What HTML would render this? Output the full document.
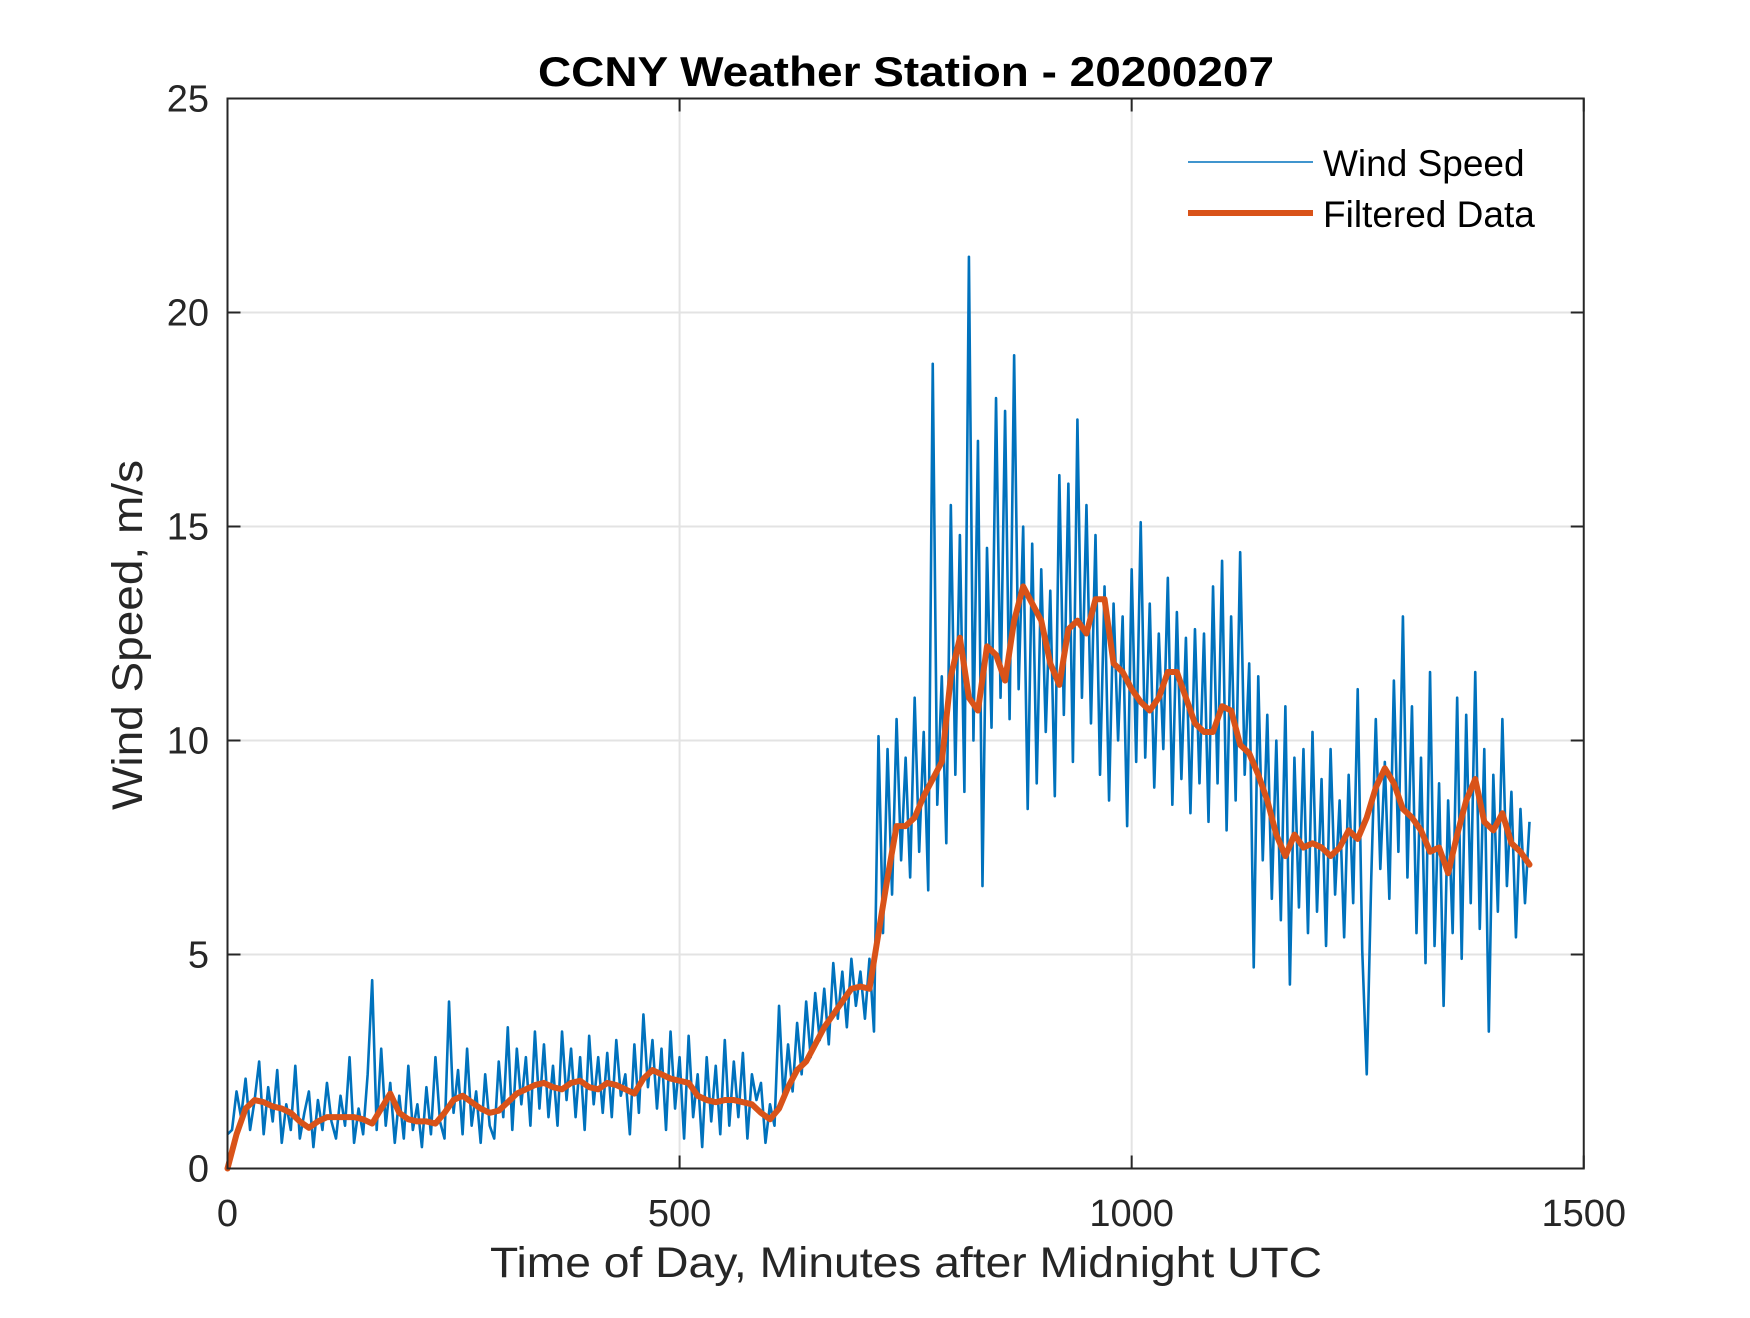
<!DOCTYPE html>
<html><head><meta charset="utf-8"><style>
html,body{margin:0;padding:0;background:#fff;}
svg text{font-family:"Liberation Sans",Arial,sans-serif;}
</style></head><body>
<svg id="chart" width="1750" height="1313" viewBox="0 0 1750 1313" xmlns="http://www.w3.org/2000/svg">
<rect width="1750" height="1313" fill="#fff"/>
<g id="grid"></g>
<g id="series"></g>
<rect x="227.5" y="98.5" width="1356.25" height="1070" fill="none" stroke="#262626" stroke-width="2"/>
<g id="ticks"></g>
<text x="906" y="86" text-anchor="middle" font-size="42" font-weight="bold" fill="#000" textLength="736" lengthAdjust="spacingAndGlyphs">CCNY Weather Station - 20200207</text>
<text x="906" y="1277" text-anchor="middle" font-size="43" fill="#262626" textLength="832" lengthAdjust="spacingAndGlyphs">Time of Day, Minutes after Midnight UTC</text>
<text transform="translate(142,635) rotate(-90)" text-anchor="middle" font-size="43" fill="#262626" textLength="350" lengthAdjust="spacingAndGlyphs">Wind Speed, m/s</text>
<g>
<line x1="1188" y1="162" x2="1313" y2="162" stroke="#0072BD" stroke-width="1.5"/>
<text x="1323" y="176" font-size="37" fill="#000">Wind Speed</text>
<line x1="1188" y1="213" x2="1313" y2="213" stroke="#D95319" stroke-width="6"/>
<text x="1323" y="227" font-size="37" fill="#000">Filtered Data</text>
</g>
</svg>
<script>
const xTicks = [0, 500, 1000, 1500];
const yTicks = [0, 5, 10, 15, 20, 25];
const rawStep = 5;
const windSpeed = [
0.8,0.9,1.8,1.2,2.1,0.9,1.6,2.5,0.8,1.9,1.1,2.3,
0.6,1.5,0.9,2.4,0.7,1.3,1.8,0.5,1.6,0.9,2.0,1.1,
0.7,1.7,1.0,2.6,0.6,1.4,0.8,2.2,4.4,0.9,2.8,1.0,
2.0,0.6,1.7,0.7,2.4,0.9,1.5,0.5,1.9,0.8,2.6,1.1,
0.7,3.9,1.3,2.3,0.8,2.8,1.0,1.8,0.6,2.2,1.0,0.7,
2.5,1.2,3.3,0.9,2.8,1.5,2.6,1.0,3.2,1.4,2.9,1.2,
2.4,1.0,3.2,1.6,2.8,1.2,2.6,0.9,3.1,1.5,2.6,1.3,
2.7,1.2,3.0,1.7,2.2,0.8,2.9,1.3,3.6,1.9,3.0,1.4,
2.8,0.9,3.2,1.4,2.6,0.7,3.1,1.2,2.2,0.5,2.6,1.1,
2.4,0.8,3.0,1.0,2.5,1.2,2.7,0.7,2.2,1.6,2.0,0.6,
1.5,1.0,3.8,1.6,2.9,1.8,3.4,2.2,3.9,2.6,4.1,3.0,
4.2,2.9,4.8,3.5,4.6,3.3,4.9,3.8,4.6,3.5,4.9,3.2,
10.1,5.5,9.8,6.4,10.5,7.2,9.6,6.8,11.0,7.4,10.2,6.5,
18.8,8.5,11.5,7.6,15.5,9.2,14.8,8.8,21.3,10.0,17.0,6.6,
14.5,10.3,18.0,11.0,17.7,10.5,19.0,11.2,15.0,8.4,14.6,9.0,
14.0,10.2,13.5,8.7,16.2,10.6,16.0,9.5,17.5,11.0,15.5,10.4,
14.8,9.2,13.6,8.6,13.2,10.0,12.9,8.0,14.0,9.5,15.1,9.6,
13.2,8.9,12.5,9.8,13.8,8.5,13.0,9.1,12.4,8.3,12.6,9.0,
12.5,8.1,13.6,9.0,14.2,7.9,12.9,8.6,14.4,9.2,11.8,4.7,
11.5,7.2,10.6,6.3,10.0,5.8,10.8,4.3,9.6,6.1,9.8,5.5,
10.2,6.0,9.1,5.2,9.8,6.4,8.6,5.4,9.2,6.2,11.2,5.1,
2.2,6.8,10.5,7.0,9.5,6.3,11.4,7.4,12.9,6.8,10.8,5.5,
9.6,4.8,11.6,5.2,9.0,3.8,8.6,5.5,11.0,4.9,10.6,6.2,
11.6,5.6,9.8,3.2,9.2,6.0,10.5,6.6,8.8,5.4,8.4,6.2,
8.1];
const filteredStep = 10;
const filtered = [
0,0.8,1.4,1.6,1.55,1.45,1.4,1.3,1.1,0.95,1.1,1.2,1.2,1.2,1.2,1.15,1.05,1.4,1.75,1.3,
1.15,1.1,1.1,1.05,1.3,1.6,1.7,1.55,1.4,1.3,1.35,1.55,1.75,1.85,1.95,2.0,1.9,1.85,2.0,2.05,
1.9,1.85,2.0,1.95,1.85,1.75,2.1,2.3,2.2,2.1,2.05,2.0,1.7,1.6,1.55,1.6,1.6,1.55,1.5,1.3,
1.15,1.4,1.9,2.3,2.5,2.9,3.3,3.6,3.9,4.2,4.25,4.2,5.5,6.8,8.0,8.0,8.2,8.7,9.1,9.5,
11.5,12.4,11.0,10.7,12.2,12.0,11.4,12.8,13.6,13.2,12.8,11.8,11.3,12.6,12.8,12.5,13.3,13.3,11.8,11.6,
11.2,10.9,10.7,11.0,11.6,11.6,11.0,10.4,10.2,10.2,10.8,10.7,9.9,9.7,9.2,8.6,7.8,7.3,7.8,7.5,
7.6,7.5,7.3,7.5,7.9,7.7,8.2,8.9,9.35,9.0,8.4,8.2,7.9,7.4,7.5,6.9,7.8,8.6,9.1,8.1,
7.9,8.3,7.6,7.4,7.1];

const X0=227.5, X1=1583.75, Y0=1168.5, Y1=98.5;
function sx(v){return X0+(v-0)/(1500-0)*(X1-X0);}
function sy(v){return Y0-(v-0)/(25-0)*(Y0-Y1);}
const NS='http://www.w3.org/2000/svg';
const grid=document.getElementById('grid'), ticks=document.getElementById('ticks'), series=document.getElementById('series');
function mk(tag,attrs,parent){const e=document.createElementNS(NS,tag);for(const k in attrs)e.setAttribute(k,attrs[k]);parent.appendChild(e);return e;}

xTicks.forEach(t=>{
  const x=sx(t);
  if(t>0&&t<1500){const g=mk('line',{x1:x,y1:Y0,x2:x,y2:Y1,stroke:'#e3e3e3','stroke-width':2},grid);
  
  }
  const a=mk('line',{x1:x,y1:Y0,x2:x,y2:Y0-13,stroke:'#262626','stroke-width':2},ticks);
  
  
  const b=mk('line',{x1:x,y1:Y1,x2:x,y2:Y1+13,stroke:'#262626','stroke-width':2},ticks);
  
  
  const l=mk('text',{x:x,y:1226,'text-anchor':'middle','font-size':38,fill:'#262626'},ticks);
  l.textContent=String(t);
  
  
});
yTicks.forEach(t=>{
  const y=sy(t);
  if(t>0&&t<25){const g=mk('line',{x1:X0,y1:y,x2:X1,y2:y,stroke:'#e3e3e3','stroke-width':2},grid);
  
  }
  const a=mk('line',{x1:X0,y1:y,x2:X0+13,y2:y,stroke:'#262626','stroke-width':2},ticks);
  
  
  const b=mk('line',{x1:X1,y1:y,x2:X1-13,y2:y,stroke:'#262626','stroke-width':2},ticks);
  
  
  const l=mk('text',{x:209,y:y+13,'text-anchor':'end','font-size':38,fill:'#262626'},ticks);
  l.textContent=String(t);
  
  
});
const rawPts=windSpeed.map((v,i)=>sx(i*rawStep).toFixed(2)+','+sy(v).toFixed(2)).join(' ');
const raw=mk('polyline',{points:rawPts,fill:'none',stroke:'#0072BD','stroke-width':2.6,'stroke-linejoin':'round'},series);


const fPts=filtered.map((v,i)=>sx(i*filteredStep).toFixed(2)+','+sy(v).toFixed(2)).join(' ');
const fl=mk('polyline',{points:fPts,fill:'none',stroke:'#D95319','stroke-width':6,'stroke-linejoin':'round','stroke-linecap':'round'},series);


</script>
</body></html>
